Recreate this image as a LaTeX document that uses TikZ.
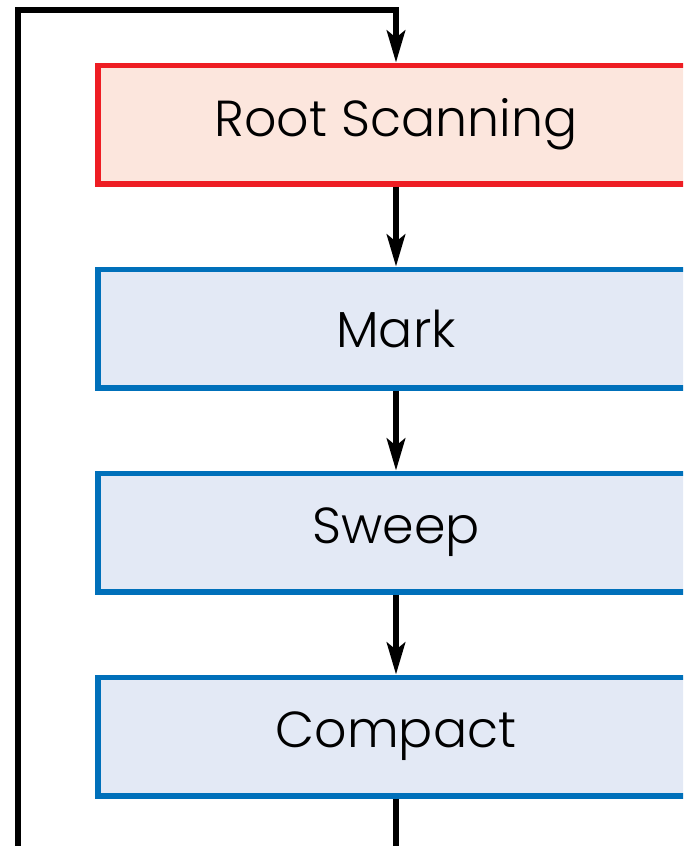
\documentclass[tikz,border=0pt]{standalone}
\usepackage{fontspec}
\setmainfont{Poppins}[UprightFont={* Light}]
\usetikzlibrary{positioning, arrows.meta}

\definecolor{scanred}{HTML}{EE1D23}
\definecolor{scanfill}{HTML}{FCE6DD}
\definecolor{phaseblue}{HTML}{0070BA}
\definecolor{phasefill}{HTML}{E3E9F5}

\begin{document}
\begin{tikzpicture}
\tikzset{
>={Stealth[length=8mm, width=4.6mm, inset=1.8mm]}, % arrow heads
node distance=2.0cm, % gap between the phase boxes
phase/.style={draw=phaseblue, fill=phasefill, line width=0.14cm, minimum width=14.9cm, minimum height=2.96cm, font=\fontsize{36}{42}\selectfont},
rootphase/.style={phase, draw=scanred, fill=scanfill},
link/.style={->, line width=0.14cm},
}
	% picture frame (the right and bottom ends are cut off)
	\useasboundingbox (0,0) rectangle (17.075,-21.15);
	\clip (0,0) rectangle (17.075,-21.15);

	\node[rootphase] (root) at (9.9,-3.1125) {Root Scanning};
	\node[phase, below=of root] (mark) {Mark};
	\node[phase, below=of mark] (sweep) {Sweep};
	\node[phase, below=of sweep] (compact) {Compact};

	\coordinate (loopbottom) at (9.9,-22);
	\coordinate (loopleft) at (0.45,-22);
	\coordinate (looptop) at (0.45,-0.25);

	\draw[link] (root) -- (mark);
	\draw[link] (mark) -- (sweep);
	\draw[link] (sweep) -- (compact);
	\draw[link] (compact.south) -- (loopbottom) -- (loopleft) -- (looptop) -| (root.north);
\end{tikzpicture}
\end{document}
